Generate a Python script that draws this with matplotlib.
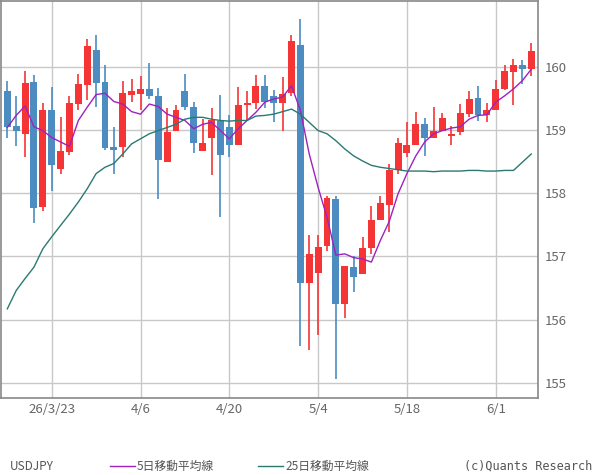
import matplotlib
matplotlib.use("Agg")
import matplotlib.pyplot as plt
import numpy as np

plt.rcParams['font.family'] = ['Noto Sans CJK JP', 'DejaVu Sans']

opens = [159.62,159.07,158.93,159.76,157.78,159.32,158.39,158.65,159.41,159.71,
         160.27,159.76,158.73,158.73,159.56,159.57,159.65,159.53,158.49,158.98,
         159.62,159.37,158.66,158.88,159.14,159.05,158.76,159.39,159.42,159.70,
         159.53,159.42,159.59,160.35,156.58,156.73,157.16,157.91,156.25,156.84,
         156.72,157.14,157.57,157.81,158.36,158.64,158.77,159.10,158.87,158.98,
         158.90,158.96,159.26,159.51,159.24,159.31,159.65,159.92,160.03,159.97]
closes = [159.04,158.98,159.75,157.76,159.32,158.44,158.66,159.42,159.72,160.33,
          159.75,158.71,158.68,159.59,159.61,159.65,159.54,158.52,158.96,159.32,
          159.37,158.79,158.80,159.15,158.60,158.76,159.40,159.43,159.70,159.44,
          159.42,159.57,160.41,156.58,157.04,157.15,157.92,156.25,156.85,156.67,
          157.14,157.57,157.84,158.36,158.80,158.77,159.10,158.87,158.99,159.19,
          158.93,159.27,159.49,159.23,159.31,159.65,159.94,160.03,159.97,160.25]
highs = [159.78,159.53,159.94,159.87,159.42,159.68,159.21,159.53,159.89,160.44,
         160.51,160.02,159.04,159.78,159.81,159.86,160.06,159.67,159.34,159.40,
         159.89,159.45,159.18,159.34,159.56,159.23,159.68,159.61,159.87,159.87,
         159.64,159.83,160.51,160.76,157.34,157.34,157.95,157.95,156.85,157.00,
         157.31,157.79,157.95,158.46,158.88,159.12,159.28,159.19,159.37,159.27,
         159.07,159.41,159.62,159.69,159.42,159.79,160.03,160.13,160.11,160.38]
lows = [158.87,158.74,158.58,157.53,157.72,158.03,158.30,158.60,159.31,159.48,
        159.36,158.68,158.30,158.57,159.45,159.32,159.49,157.91,158.49,158.98,
        159.31,158.63,158.68,158.28,157.62,158.57,158.76,159.15,159.33,159.34,
        159.12,158.99,159.54,155.58,155.52,155.76,157.09,155.06,156.02,156.44,
        156.72,157.03,157.57,157.38,158.31,158.58,158.77,158.59,158.87,158.98,
        158.77,158.92,159.20,159.14,159.12,159.31,159.64,159.40,159.73,159.86]
ma5 = [159.04,159.23,159.38,159.05,158.99,158.88,158.81,158.74,159.15,159.36,
       159.56,159.58,159.45,159.41,159.29,159.25,159.41,159.37,159.25,159.20,
       159.15,159.02,159.09,159.12,158.99,158.86,159.02,159.15,159.28,159.44,
       159.49,159.52,159.70,159.31,158.62,158.09,157.62,157.02,157.04,156.98,
       156.96,156.91,157.25,157.55,157.99,158.31,158.59,158.81,158.94,158.99,
       159.03,159.05,159.17,159.23,159.24,159.44,159.54,159.65,159.78,159.96]
ma25 = [156.17,156.46,156.65,156.83,157.12,157.31,157.49,157.67,157.86,158.07,
        158.31,158.41,158.47,158.62,158.78,158.86,158.94,158.99,159.04,159.09,
        159.17,159.20,159.20,159.17,159.15,159.14,159.15,159.15,159.22,159.23,
        159.25,159.29,159.33,159.25,159.12,158.99,158.94,158.83,158.70,158.59,
        158.51,158.44,158.41,158.39,158.37,158.35,158.35,158.35,158.34,158.35,
        158.35,158.35,158.36,158.36,158.35,158.35,158.36,158.36,158.49,158.62]
tick_pos = [5, 15, 25, 35, 45, 55]
tick_labels = ["26/3/23", "4/6", "4/20", "5/4", "5/18", "6/1"]

UP = "#f53535"
DOWN = "#4c8cc0"
fig = plt.figure(figsize=(6, 4.75), dpi=100)
ax = fig.add_axes([1/600, 1 - 398/475, 537/600, 397/475])
x = np.arange(len(opens))
for i in x:
    o, c, h, l = opens[i], closes[i], highs[i], lows[i]
    col = UP if c >= o else DOWN
    ax.vlines(i, l, h, color=col, lw=1.2, zorder=3)
    bot, top = min(o, c), max(o, c)
    ax.bar(i, max(top - bot, 0.03), bottom=bot, width=0.78, color=col, zorder=3)
ax.plot(x, ma5, color="#a020c0", lw=1, zorder=4)
ax.plot(x, ma25, color="#2a7a72", lw=1, zorder=4)
ax.set_xlim(-0.71, 59.76)
ax.set_ylim(154.76, 161.04)
ax.set_yticks([155, 156, 157, 158, 159, 160])
ax.set_xticks(tick_pos)
ax.set_xticklabels(tick_labels)
ax.yaxis.tick_right()
ax.grid(True, color="#c8c8c8", lw=1, zorder=0)
ax.tick_params(axis='both', length=0, colors="#666666", labelsize=9.5)
ax.tick_params(axis='y', pad=5)
for s in ax.spines.values():
    s.set_color("#888888")
    s.set_linewidth(1.2)

fig.text(10/600, 1 - 466/475, "USDJPY", fontsize=8.5, color="#555555", va="center")
fig.lines.append(plt.Line2D([110/600, 135/600], [1-466/475]*2, color="#a020c0", lw=1, transform=fig.transFigure))
fig.text(137/600, 1 - 466/475, "5日移動平均線", fontsize=8.5, color="#555555", va="center")
fig.lines.append(plt.Line2D([258/600, 283/600], [1-466/475]*2, color="#2a7a72", lw=1, transform=fig.transFigure))
fig.text(285/600, 1 - 466/475, "25日移動平均線", fontsize=8.5, color="#555555", va="center")
fig.text(592/600, 1 - 466/475, "(c)Quants Research", fontsize=8.5, color="#555555", va="center", ha="right",
         family="DejaVu Sans Mono")
fig.savefig("out.png", dpi=100)
